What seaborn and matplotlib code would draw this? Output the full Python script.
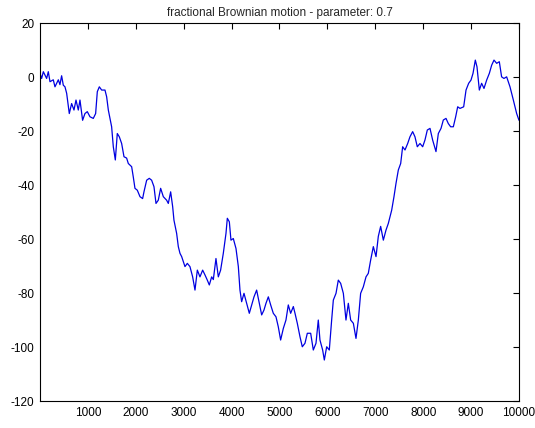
import matplotlib
matplotlib.use("Agg")
import matplotlib.pyplot as plt
import seaborn as sns
import pandas as pd

# Values (approximate)
time_index = [0, 35, 70, 139, 174, 209, 278, 313, 383, 417, 452, 487, 522, 557, 612, 661, 710, 752, 800, 835,
              890, 939, 988, 1044, 1113, 1162, 1197, 1239, 1288, 1357, 1392, 1427, 1496, 1531, 1573, 1614, 1656,
              1705, 1754, 1809, 1844, 1914, 1948, 1983, 2032, 2088, 2143, 2171, 2227, 2282, 2331, 2380, 2422,
              2470, 2519, 2575, 2644, 2679, 2728, 2770, 2797, 2853, 2888, 2923, 2958, 3027, 3076, 3131, 3187,
              3236, 3285, 3340, 3396, 3445, 3493, 3535, 3584, 3619, 3674, 3723, 3771, 3827, 3883, 3911, 3953,
              3987, 4036, 4092, 4141, 4175, 4210, 4259, 4315, 4370, 4419, 4468, 4523, 4579, 4628, 4676, 4718,
              4767, 4816, 4871, 4927, 4975, 5024, 5080, 5135, 5184, 5233, 5289, 5324, 5372, 5428, 5476, 5532,
              5581, 5651, 5706, 5762, 5810, 5845, 5901, 5936, 5985, 6040, 6089, 6124, 6180, 6228, 6277, 6333,
              6388, 6437, 6486, 6542, 6597, 6646, 6694, 6750, 6806, 6854, 6903, 6959, 7015, 7063, 7112, 7168,
              7223, 7272, 7342, 7390, 7432, 7481, 7530, 7571, 7620, 7676, 7724, 7780, 7828, 7877, 7933, 7989,
              8037, 8086, 8142, 8197, 8267, 8316, 8372, 8420, 8476, 8524, 8573, 8629, 8678, 8720, 8768, 8845,
              8894, 8949, 8998, 9040, 9088, 9123, 9172, 9220, 9269, 9325, 9381, 9429, 9478, 9534, 9589, 9637,
              9686, 9742, 9812, 9882, 9951, 10000]
fbm_values = [1.4, -0.5, 2, -0.5, 2, -1.7, -1, -3.6, -1, -2.8, 0.5, -3, -3.6, -6, -13.5, -9.8, -12.2, -8.5, -12.2, -8.5,
              -16, -13.5, -12.8, -14.7, -15.3, -13.5, -5.4, -3.6, -4.8, -4.8, -7.3, -12.2, -18.4, -25.8, -30.7, -20.9, -22.1,
              -24.6, -29.5, -30, -32, -33.2, -37, -41.2, -41.9, -44.3, -45, -42.5, -38.2, -37.5, -38.2, -40.6, -46.8,
              -45.6, -41.2, -44.3, -45.6, -46.8, -42.5, -48, -53, -57.9, -62.8, -65.3, -66.5, -70.2, -69, -70.2, -74,
              -78.9, -71.5, -74, -71.5, -73.3, -75.2, -77, -74, -75, -67.2, -74, -71.5, -65.3, -57.9, -52.3, -53.6,
              -60.4, -59.8, -63.5, -70.2, -78.9, -83.2, -80.1, -83.8, -87.5, -84.4, -81.4, -78.9, -83.8, -88.1, -86.3, -83.8,
              -81.4, -84.4, -87.5, -88.8, -92.5, -97.4, -93.1, -90, -84.4, -87.5, -85, -87.5, -91.2, -96.2, -99.9, -98.6,
              -94.9, -94.9, -101.1, -98.6, -90, -97.4, -101.1, -104.8, -99.9, -101.1, -90, -82.6, -80.1, -75.2, -76.4, -80.1,
              -90, -83.8, -90, -91.2, -96.8, -90, -80.1, -77.7, -74, -72.7, -67.8, -62.8, -66.5, -59, -55.3, -60.4,
              -56.7, -54.2, -49.3, -44.3, -39.4, -34.4, -32, -25.8, -27, -24.6, -22.1, -20.2, -22.1, -25.8, -24.6, -25.8,
              -23.3, -19.6, -19, -23.3, -27.6, -20.9, -19, -15.9, -15.3, -17.2, -18.4, -18.4, -14.7, -11, -11.6, -11,
              -4.8, -2.3, -1.1, 1.4, 6.3, 3.8, -4.8, -2.3, -4.2, -1.1, 1.4, 4.4, 6.3, 5.1, 5.7, 0.1,
              -0.5, 0.1, -3.6, -8.5, -13.5, -16]
x_ticks = [1000, 2000, 3000, 4000, 5000, 6000, 7000, 8000, 9000, 10000]
y_ticks = [-120, -100, -80, -60, -40, -20, 0, 20]
title_text = "fractional Brownian motion - parameter: 0.7"

sns.set_style("white")
plt.rcParams['font.family'] = ['Liberation Sans', 'DejaVu Sans']

df = pd.DataFrame({"t": time_index, "v": fbm_values})

fig = plt.figure(figsize=(5.35, 4.28), dpi=100)
ax = fig.add_axes([0.0748, 0.063, 0.8953, 0.883])
sns.lineplot(data=df, x="t", y="v", ax=ax, color="#0000e0", linewidth=0.9)

ax.set_xlim(1, 10000)
ax.set_ylim(-120, 20)
ax.set_xticks(x_ticks)
ax.set_yticks(y_ticks)
ax.set_xticklabels([str(t) for t in x_ticks])
ax.set_yticklabels([str(t) for t in y_ticks])
ax.set_xlabel("")
ax.set_ylabel("")
ax.tick_params(direction="in", length=4, width=0.8, top=True, right=True,
               labelsize=8.5, colors="black", pad=4)
for s in ax.spines.values():
    s.set_visible(True)
    s.set_color("black")
    s.set_linewidth(0.8)
ax.set_title(title_text, fontsize=8.5, pad=5)

fig.savefig("out.png", dpi=100, facecolor="white")
